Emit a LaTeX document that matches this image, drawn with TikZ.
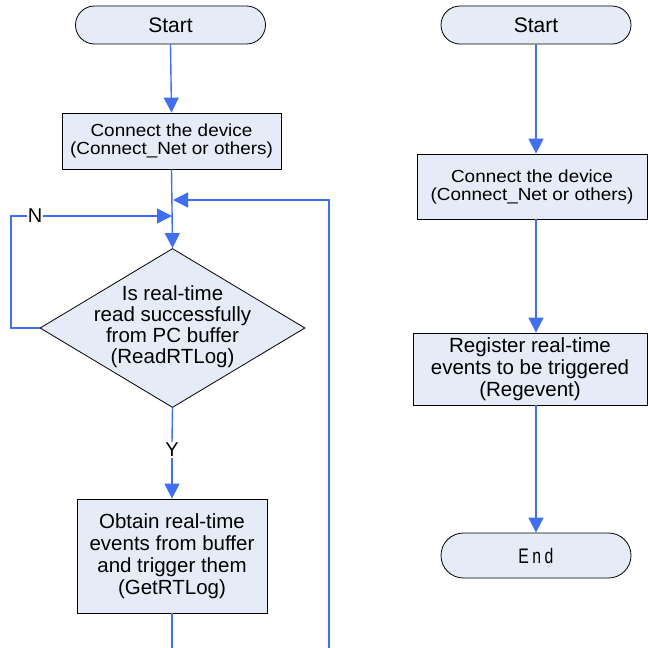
\documentclass[tikz,border=0pt]{standalone}
\usepackage{fontspec}
\setmainfont{Liberation Sans}
\newfontfamily\endfont[FakeStretch=0.75]{Liberation Sans}
\newfontfamily\widefont[FakeStretch=1.08]{Liberation Sans}
\usetikzlibrary{shapes.geometric,arrows.meta}
\definecolor{flow}{RGB}{64,112,240}
\definecolor{boxfill}{RGB}{230,236,247}
\tikzset{
  termbox/.style={draw=black, fill=boxfill, line width=0.8pt, inner sep=0pt,
    minimum width=190pt, minimum height=38pt, rounded corners=19pt,
    font=\fontsize{21}{22}\selectfont},
  procbox/.style={draw=black, fill=boxfill, line width=0.8pt, inner sep=0pt, align=center},
  decbox/.style={draw=black, fill=boxfill, line width=0.8pt, inner sep=0pt, diamond,
    minimum width=265pt, minimum height=159pt},
  flowline/.style={draw=flow, line width=1.4pt},
  flowarrow/.style={flowline, -{Triangle[length=15pt,width=15pt]}},
  lbl/.style={inner sep=1pt, font=\fontsize{20}{22}\selectfont, fill=white}
}
\begin{document}
\begin{tikzpicture}[x=1pt,y=-1pt]
\useasboundingbox (0,0) rectangle (648,648);
% ---------- left flow ----------
\node[termbox] (ls) at (170.5,25) {Start};
\node[procbox, minimum width=219pt, minimum height=56pt,
  font=\widefont\fontsize{17.5}{18}\selectfont] (lc) at (171.5,141)
  {Connect the device\\(Connect\_Net or others)};
\node[decbox] (ld) at (172.5,328) {};
\node[align=center, inner sep=0pt, font=\fontsize{20.5}{21}\selectfont] (ldt) at (172.5,327)
  {Is real-time\\read successfully\\from PC buffer\\(ReadRTLog)};
\node[lbl] (ylab) at (172,450) {Y};
\node[procbox, minimum width=190pt, minimum height=114pt,
  font=\fontsize{20.5}{22}\selectfont] (lo) at (172,556)
  {Obtain real-time\\events from buffer\\and trigger them\\(GetRTLog)};
\coordinate (j1) at (172,200);
\coordinate (j2) at (172,216);
\coordinate (nl) at (11,328);
\coordinate (nt) at (11,216);
\coordinate (lb1) at (172,648);
\coordinate (lb2) at (329,648);
\coordinate (lr) at (329,200);

\draw[flowarrow] (ls.south) -- (lc.north);
\draw[flowarrow] (lc.south) -- (ld.north);
\draw[flowline] (ld.south) -- (ylab.north);
\draw[flowarrow] (ylab.south) -- (lo.north);
\draw[flowline] (lo.south) -- (lb1);
\draw[flowarrow] (lb2) -- (lr) -- ([xshift=1pt]j1);
\draw[flowarrow] (ld.west) -- (nl) -- (nt) -- (j2);
\node[lbl] (nlab) at (35,216) {N};

% ---------- right flow ----------
\node[termbox] (rs) at (536,25) {Start};
\node[procbox, minimum width=230pt, minimum height=65pt,
  font=\widefont\fontsize{17.5}{18}\selectfont] (rc) at (532,186.5)
  {Connect the device\\(Connect\_Net or others)};
\node[procbox, minimum width=234pt, minimum height=72pt,
  font=\fontsize{20.5}{22}\selectfont] (rr) at (530,369)
  {Register real-time\\events to be triggered\\(Regevent)};
\node[termbox, minimum height=45pt, rounded corners=22.5pt,
  font=\endfont\fontsize{21}{22}\selectfont] (re) at (536,555.5) {E\,n\,d};

\draw[flowarrow] (rs.south) -- (rs.south |- rc.north);
\draw[flowarrow] (rs.south |- rc.south) -- (rs.south |- rr.north);
\draw[flowarrow] (re.north |- rr.south) -- (re.north);
\end{tikzpicture}
\end{document}
